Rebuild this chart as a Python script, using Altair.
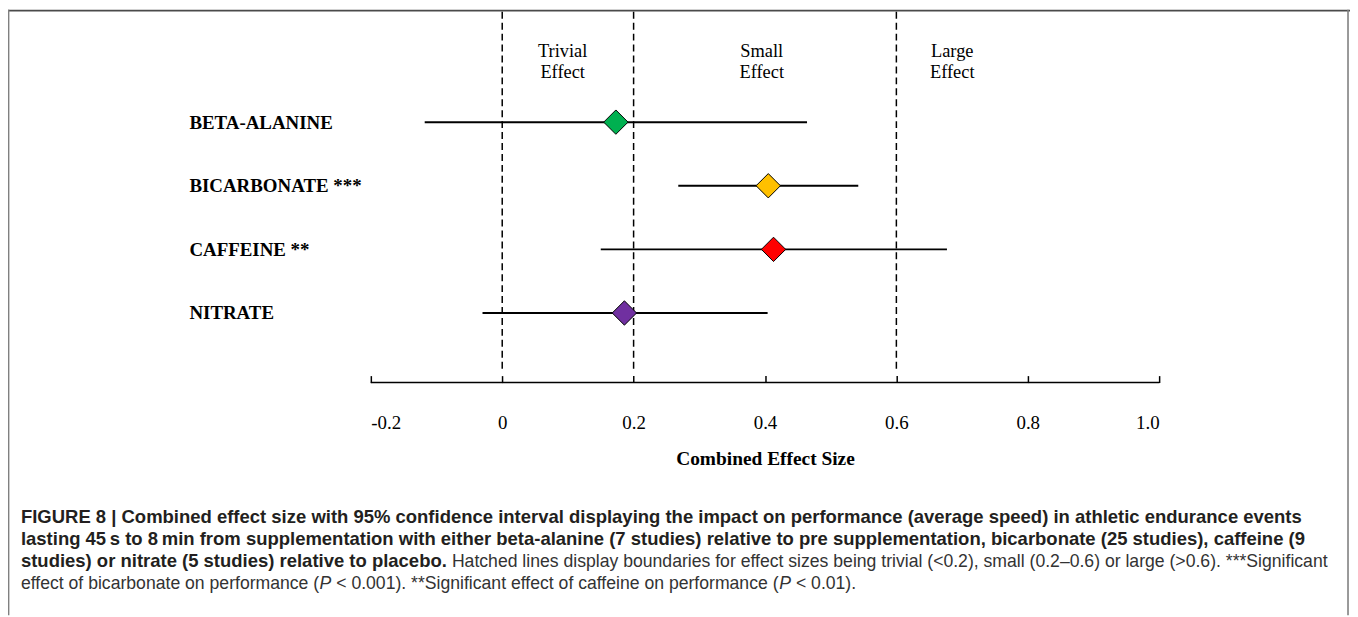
import altair as alt
import pandas as pd

# ---------------- data ----------------
supplements = ["BETA-ALANINE", "BICARBONATE ***", "CAFFEINE **", "NITRATE"]
effect_size = [0.173, 0.405, 0.413, 0.186]
ci_low = [-0.118, 0.268, 0.150, -0.030]
ci_high = [0.464, 0.542, 0.677, 0.404]
marker_colors = ["#00B050", "#FFC000", "#FF0000", "#7030A0"]

thresholds = [0.0, 0.2, 0.6]
zone_line1 = ["Trivial", "Small", "Large"]
zone_line2 = ["Effect", "Effect", "Effect"]
zone_x = [0.092, 0.395, 0.685]

tick_values = [-0.2, 0.0, 0.2, 0.4, 0.6, 0.8, 1.0]
x_title = "Combined Effect Size"

caption_lines = [
    [("FIGURE 8 | Combined effect size with 95% confidence interval displaying the impact on performance (average speed) in athletic endurance events", "bold", "normal")],
    [("lasting 45\u2009s to 8\u2009min from supplementation with either beta-alanine (7 studies) relative to pre supplementation, bicarbonate (25 studies), caffeine (9", "bold", "normal")],
    [("studies) or nitrate (5 studies) relative to placebo.", "bold", "normal"),
     (" Hatched lines display boundaries for effect sizes being trivial (<0.2), small (0.2\u20130.6) or large (>0.6). ***Significant", "normal", "normal")],
    [("effect of bicarbonate on performance (", "normal", "normal"),
     ("P", "normal", "italic"),
     (" < 0.001). **Significant effect of caffeine on performance (", "normal", "normal"),
     ("P", "normal", "italic"),
     (" < 0.01).", "normal", "normal")],
]

# ---------------- text metrics (Arial / Liberation Sans) ----------------
REG = {' ': 278, '%': 889, '(': 333, ')': 333, '*': 389, ',': 278, '-': 333, '.': 278,
       '|': 260, '<': 584, '>': 584, '\u2013': 556, '\u2009': 200, ':': 278}
BOLD = {' ': 278, '%': 889, '(': 333, ')': 333, '*': 389, ',': 278, '-': 333, '.': 278,
        '|': 280, '<': 584, '>': 584, '\u2013': 556, '\u2009': 200, ':': 333}
for d in "0123456789":
    REG[d] = 556
    BOLD[d] = 556
REG.update(dict(zip("ABCDEFGHIJKLMNOPQRSTUVWXYZ",
    [667, 667, 722, 722, 667, 611, 778, 722, 278, 500, 667, 556, 833, 722, 778, 667, 778, 722, 667, 611, 722, 667, 944, 667, 667, 611])))
REG.update(dict(zip("abcdefghijklmnopqrstuvwxyz",
    [556, 556, 500, 556, 556, 278, 556, 556, 222, 222, 500, 222, 833, 556, 556, 556, 556, 333, 500, 278, 556, 500, 722, 500, 500, 500])))
BOLD.update(dict(zip("ABCDEFGHIJKLMNOPQRSTUVWXYZ",
    [722, 722, 722, 722, 667, 611, 778, 722, 278, 556, 722, 611, 833, 722, 778, 667, 778, 722, 667, 611, 722, 667, 944, 667, 667, 611])))
BOLD.update(dict(zip("abcdefghijklmnopqrstuvwxyz",
    [556, 611, 556, 611, 556, 333, 611, 611, 278, 278, 556, 278, 889, 611, 611, 611, 611, 389, 556, 333, 611, 556, 778, 556, 556, 500])))


def text_em(s, weight):
    table = BOLD if weight == "bold" else REG
    return sum(table.get(c, 556) for c in s) / 1000.0


# ---------------- layout ----------------
PAD_LEFT, PAD_TOP = 365, 0
W, H = 793, 375
TOTAL_W, TOTAL_H = 1350, 609

cap_left_page = 21
bold_fs = (1310 - cap_left_page) / text_em(caption_lines[0][0][0], "bold")
bold3_end = cap_left_page + text_em(caption_lines[2][0][0], "bold") * bold_fs
norm_fs = (1336 - bold3_end) / text_em(caption_lines[2][1][0], "normal")
cap_x0 = cap_left_page - 8 - PAD_LEFT
cap_baselines = [516, 538, 561, 583]

serif = "Liberation Serif"
sans = "Liberation Sans"

xscale = alt.Scale(domain=[-0.2, 1.0], nice=False, zero=False)
xaxis = alt.Axis(
    values=tick_values,
    labelExpr="datum.value == 0 ? '0' : (datum.value < 0 ? '-' + format(-datum.value, '.1f') : format(datum.value, '.1f'))",
    domain=False, grid=False,
    ticks=True, tickSize=7, tickWidth=1.5, tickColor="black",
    offset=-7,
    labelPadding=40, labelBaseline="middle",
    labelFont=serif, labelFontSize=19, labelColor="black",
    title=x_title, titleFont=serif, titleFontSize=19.5, titleFontWeight="bold",
    titleColor="black", titleY=83, titleBaseline="middle",
)
yscale = alt.Scale(type="point", domain=supplements, range=[113, 305], padding=0)
yaxis = alt.Axis(
    title=None, domain=False, ticks=False, grid=False,
    labelAlign="left", labelPadding=183, labelBaseline="middle",
    labelFont=serif, labelFontSize=19, labelFontWeight="bold", labelColor="black",
    labelLimit=400,
)

df = pd.DataFrame({
    "name": supplements,
    "est": effect_size,
    "low": ci_low,
    "high": ci_high,
})
thr_df = pd.DataFrame({"t": thresholds})
zone_df = pd.DataFrame({"x": zone_x, "l1": zone_line1, "l2": zone_line2})
one = pd.DataFrame({"a": [0]})


def X(f):
    return alt.X(f, scale=xscale, axis=xaxis)


# frame
frame_top = alt.Chart(one).mark_rule(color="#4a4a4a", strokeWidth=1.6).encode(
    x=alt.value(-PAD_LEFT), x2=alt.value(TOTAL_W - PAD_LEFT), y=alt.value(0.8))
frame_left = alt.Chart(one).mark_rule(color="#808080", strokeWidth=1.8).encode(
    x=alt.value(-PAD_LEFT + 0.5), y=alt.value(0), y2=alt.value(TOTAL_H))
frame_right = alt.Chart(one).mark_rule(color="#808080", strokeWidth=1.6).encode(
    x=alt.value(1356 - 8 - PAD_LEFT), y=alt.value(0), y2=alt.value(TOTAL_H))

dashed = alt.Chart(thr_df).mark_rule(color="black", strokeWidth=1.5, strokeDash=[7, 4]).encode(
    x=X("t:Q"), y=alt.value(2), y2=alt.value(362))

domain_line = alt.Chart(one).mark_rule(color="black", strokeWidth=1.5).encode(
    x=alt.X(datum=-0.2, type="quantitative", scale=xscale, axis=xaxis),
    x2=alt.X2(datum=1.0), y=alt.value(H))

ci = alt.Chart(df).mark_rule(color="black", strokeWidth=2).encode(
    x=X("low:Q"), x2="high:Q",
    y=alt.Y("name:N", scale=yscale, axis=yaxis, sort=supplements))

diamonds = alt.Chart(df).mark_point(shape="diamond", filled=True, size=600, opacity=1,
                                    stroke="black", strokeWidth=1).encode(
    x=X("est:Q"),
    y=alt.Y("name:N", scale=yscale, axis=yaxis, sort=supplements),
    color=alt.Color("name:N", scale=alt.Scale(domain=supplements, range=marker_colors), legend=None))

zone1 = alt.Chart(zone_df).mark_text(font=serif, fontSize=18.5, color="black", align="center",
                                     baseline="middle").encode(
    x=X("x:Q"), y=alt.value(41), text="l1:N")
zone2 = alt.Chart(zone_df).mark_text(font=serif, fontSize=18.5, color="black", align="center",
                                     baseline="middle").encode(
    x=X("x:Q"), y=alt.value(63), text="l2:N")

layers = [frame_top, frame_left, frame_right, dashed, domain_line, ci, diamonds, zone1, zone2]

for li, segs in enumerate(caption_lines):
    xpos = cap_x0
    for text, weight, style in segs:
        fs = bold_fs if weight == "bold" else norm_fs
        stripped = text.lstrip(" ")
        xpos += text_em(text[:len(text) - len(stripped)], weight) * fs
        seg = alt.Chart(pd.DataFrame({"t": [stripped]})).mark_text(
            font=sans, fontSize=fs, fontWeight=weight, fontStyle=style,
            color="#231f20" if weight == "bold" else "#333333",
            align="left", baseline="alphabetic").encode(
            x=alt.value(xpos), y=alt.value(cap_baselines[li]), text="t:N")
        layers.append(seg)
        xpos += text_em(stripped, weight) * fs

chart = alt.layer(*layers).properties(
    width=W, height=H,
    autosize=alt.AutoSizeParams(type="none"),
    padding={"left": PAD_LEFT, "top": PAD_TOP, "right": TOTAL_W - PAD_LEFT - W, "bottom": TOTAL_H - H},
    background="white",
).configure_view(stroke=None)

chart.save("out.html", embed_options={"renderer": "svg", "actions": False})
